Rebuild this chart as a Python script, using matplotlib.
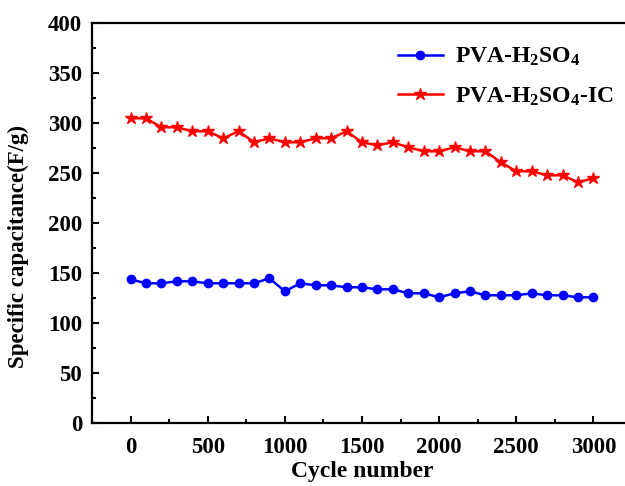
import matplotlib
matplotlib.use("Agg")
import matplotlib.pyplot as plt
from matplotlib.ticker import MultipleLocator

plt.rcParams['font.family'] = ['Liberation Serif', 'DejaVu Serif']
plt.rcParams['font.weight'] = 'bold'
plt.rcParams['mathtext.fontset'] = 'custom'
plt.rcParams['mathtext.rm'] = 'Liberation Serif:bold'
plt.rcParams['mathtext.it'] = 'Liberation Serif:bold'
plt.rcParams['mathtext.bf'] = 'Liberation Serif:bold'

cycles = list(range(0, 3001, 100))
pva_h2so4 = [144, 140, 140, 142, 142, 140, 140, 140, 140, 145, 132, 140, 138, 138, 136,
             136, 134, 134, 130, 130, 126, 130, 132, 128, 128, 128, 130, 128, 128, 126, 126]
pva_h2so4_ic = [305, 305, 296, 296, 292, 292, 285, 292, 281, 285, 281, 281, 285, 285, 292,
                281, 278, 281, 276, 272, 272, 276, 272, 272, 261, 252, 252, 248, 248, 241, 245]
labels = ['PVA-H$_2$SO$_4$', 'PVA-H$_2$SO$_4$-IC']

fig = plt.figure(figsize=(6.25, 4.86), dpi=100)
ax = fig.add_axes([92/625, 1-423.3/486, 540/625, 400/486])

ax.plot(cycles, pva_h2so4, color='#0000ff', marker='o', markersize=6, lw=1.8, label=labels[0])
ax.plot(cycles, pva_h2so4_ic, color='#ff0000', marker='*', markersize=9, lw=1.8, label=labels[1])

ax.set_xlim(-250, 3250)
ax.set_ylim(0, 400)
ax.xaxis.set_major_locator(MultipleLocator(500))
ax.xaxis.set_minor_locator(MultipleLocator(250))
ax.yaxis.set_major_locator(MultipleLocator(50))
ax.yaxis.set_minor_locator(MultipleLocator(25))
ax.tick_params(which='major', direction='in', length=5, width=1.5, labelsize=16.5)
ax.tick_params(axis='x', which='major', pad=10)
ax.tick_params(axis='y', which='major', pad=7)
ax.tick_params(which='minor', direction='in', length=3, width=1.5)
for lab in ax.get_xticklabels() + ax.get_yticklabels():
    lab.set_fontweight('bold')
for s in ax.spines.values():
    s.set_linewidth(1.6)

ax.set_xlabel('Cycle number', fontsize=17, fontweight='bold')
ax.set_ylabel('Specific capacitance(F/g)', fontsize=16.5, fontweight='bold')
ax.xaxis.set_label_coords(0.5, (423.3 - 461) / 400)
ax.yaxis.set_label_coords((29 - 92) / 540, (423.3 - 247) / 400)

leg = ax.legend(loc='upper left', bbox_to_anchor=((398 - 92) / 540, (423.3 - 46) / 400),
                frameon=False, borderpad=0, borderaxespad=0,
                prop={'family': 'Liberation Serif', 'weight': 'bold', 'size': 17},
                handlelength=1.9, handletextpad=0.5, labelspacing=0.72)

fig.savefig('out.png', dpi=100)
